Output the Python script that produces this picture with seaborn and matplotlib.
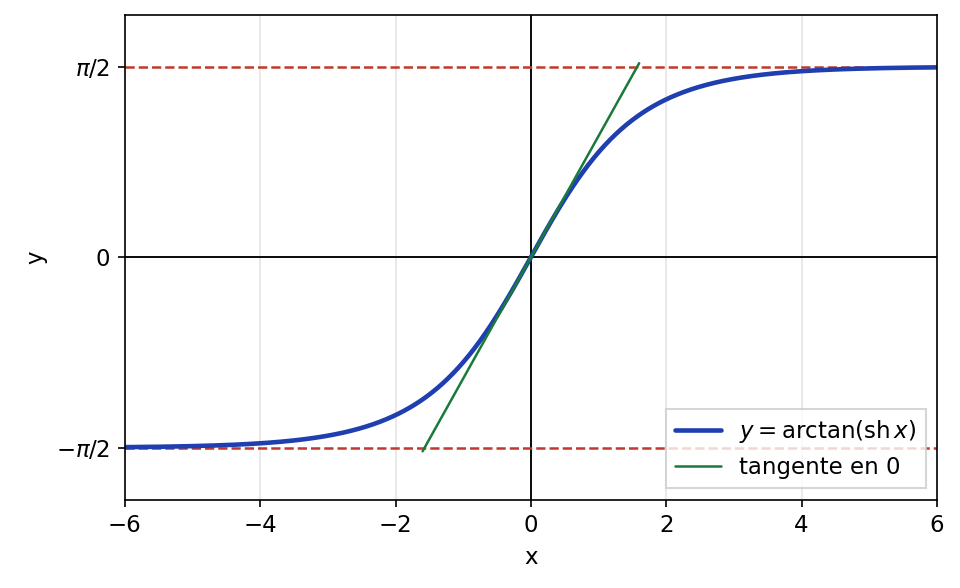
import numpy as np
import matplotlib
matplotlib.use("Agg")
import matplotlib.pyplot as plt
import seaborn as sns

x = np.linspace(-6, 6, 600)
y = np.arctan(np.sinh(x))
tan_x = [-1.6, 1.6]
tan_y = [-1.6, 1.6]
asymptotes = [np.pi / 2, -np.pi / 2]

sns.set_style("ticks")
plt.rcParams['font.family'] = ['DejaVu Sans']
plt.rcParams.update({"font.size": 11, "text.color": "black", "axes.labelcolor": "black",
                     "xtick.color": "black", "ytick.color": "black"})

fig, ax = plt.subplots(figsize=(6.4, 3.92), dpi=150)
ax.grid(True, axis="x", color="#e5e5e5", linewidth=0.8)
ax.axhline(0, color="black", linewidth=0.9)
ax.axvline(0, color="black", linewidth=0.9)
for a in asymptotes:
    ax.axhline(a, color="#c0392b", linestyle="--", linewidth=1.2)

sns.lineplot(x=x, y=y, ax=ax, color="#1f3fb0", linewidth=2.2, label=r"$y = \arctan(\mathrm{sh}\,x)$")
sns.lineplot(x=tan_x, y=tan_y, ax=ax, color="#1a7a3a", linewidth=1.2, label="tangente en 0")

ax.set_xlim(-6, 6)
ax.set_ylim(-2, 2)
ax.set_yticks([-np.pi / 2, 0, np.pi / 2])
ax.set_yticklabels([r"$-\pi/2$", "0", r"$\pi/2$"])
ax.tick_params(labelsize=11)
ax.set_xlabel("x", fontsize=11)
ax.set_ylabel("y", fontsize=11)
for s in ax.spines.values():
    s.set_color("black")
    s.set_linewidth(0.8)
ax.legend(loc="lower right", frameon=True, fontsize=11, fancybox=False)
fig.subplots_adjust(left=0.13, right=0.976, top=0.975, bottom=0.15)
fig.savefig("out.png")
